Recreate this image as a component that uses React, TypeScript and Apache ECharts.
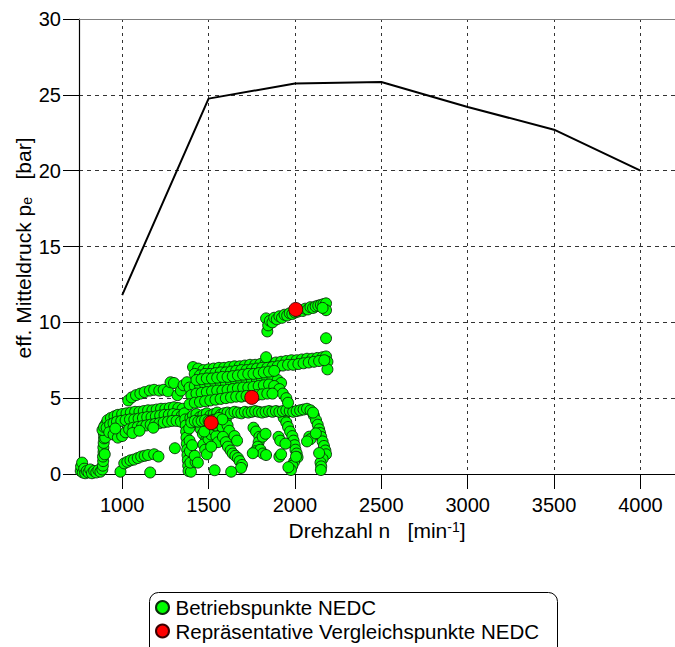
import React, { useEffect, useRef } from "react";
import * as echarts from "echarts";

// Full-load curve
const fullLoadRpm = [1000, 1500, 2000, 2500, 3000, 3500, 4000];
const fullLoadPe = [11.8, 24.75, 25.75, 25.85, 24.2, 22.7, 20.0];

const xTickValues = [1000, 1500, 2000, 2500, 3000, 3500, 4000];

// NEDC operating points (rpm, bar), grouped by visible trajectory
const idlePoints = [
  [760, 0.2], [762, 0.5], [768, 0.75], [772, 0.1], [780, 0.35], [786, 0.05], [795, 0.2], [805, 0.1],
  [815, 0.3], [825, 0.05], [838, 0.2], [850, 0.1], [862, 0.25], [874, 0.15], [885, 0.3],
];
const climb900 = [
  [888, 0.55], [890, 0.85], [889, 1.15], [892, 1.45], [891, 1.75], [893, 2.05], [895, 2.35], [894, 2.65],
  [897, 2.95], [900, 3.2], [904, 2.8], [902, 2.4], [899, 1.3], [908, 3.35], [886, 2.9], [895, 3.1],
];
const lowBandA = [
  [915, 3.55], [935, 3.7], [955, 3.8], [975, 3.9], [1000, 3.95], [1025, 4.0], [1050, 4.05], [1075, 4.1],
  [1100, 4.1], [1125, 4.15], [1150, 4.2], [1175, 4.2], [1200, 4.25], [1225, 4.3], [1250, 4.3], [1275, 4.35],
  [1300, 4.4], [1325, 4.35], [1350, 4.3],
];
const lowBandB = [
  [910, 3.05], [930, 3.25], [950, 3.35], [970, 3.45], [995, 3.5], [1020, 3.55], [1045, 3.6], [1070, 3.6],
  [1095, 3.65], [1120, 3.7], [1145, 3.75], [1170, 3.75], [1195, 3.8], [1220, 3.85], [1245, 3.9], [1270, 3.9],
  [1295, 3.95], [1320, 3.9], [1345, 3.85],
];
const lowBandC = [
  [925, 2.75], [950, 2.6], [975, 2.4], [1000, 2.5], [1020, 2.75], [1040, 2.95], [1065, 3.05], [1090, 3.1],
  [1115, 3.15], [1140, 3.2], [1165, 3.25], [1190, 3.3], [1215, 3.35], [1240, 3.4], [1265, 3.45], [1290, 3.5],
  [1315, 3.5], [1340, 3.45], [1060, 2.7], [1100, 2.85], [960, 3.0], [1180, 3.05],
];
const upperArc = [
  [1035, 4.85], [1055, 5.05], [1080, 5.2], [1105, 5.3], [1130, 5.4], [1160, 5.5], [1185, 5.55], [1215, 5.5],
  [1240, 5.55], [1265, 5.45], [1280, 6.05], [1300, 6.0], [1320, 5.2], [1340, 5.5], [1355, 5.85], [1375, 6.05],
];
const bottomArc = [
  [990, 0.15], [1012, 0.7], [1030, 0.8], [1048, 0.9], [1068, 0.95], [1090, 1.05], [1110, 1.15], [1130, 1.2],
  [1150, 1.25], [1162, 0.1], [1185, 1.3], [1210, 1.15], [1305, 1.7],
];
const col1380 = [
  [1360, 4.0], [1365, 3.6], [1368, 3.2], [1370, 2.8], [1372, 2.4], [1374, 2.0], [1376, 1.6], [1378, 1.25],
  [1380, 0.9], [1382, 0.55], [1384, 0.2], [1398, 0.15], [1395, 0.75], [1392, 1.5], [1390, 2.2], [1388, 3.0],
  [1425, 0.8], [1420, 1.2], [1405, 1.9],
];
const col1500 = [
  [1430, 3.6], [1445, 3.3], [1455, 2.95], [1467, 2.65], [1486, 2.25], [1470, 1.95], [1480, 1.6], [1490, 1.3],
  [1500, 2.3], [1515, 2.6], [1530, 2.9], [1545, 2.5], [1555, 2.1], [1515, 1.8], [1540, 3.2], [1560, 3.4],
  [1580, 3.1], [1535, 0.25], [1475, 2.8], [1438, 0.75],
];
const col1650 = [
  [1600, 3.6], [1610, 3.2], [1620, 2.85], [1583, 2.45], [1600, 2.1], [1612, 1.8], [1628, 1.55], [1640, 1.35],
  [1655, 1.2], [1670, 1.05], [1680, 0.85], [1694, 0.6], [1688, 0.4], [1631, 0.15], [1650, 2.5], [1665, 2.2],
];
const col1780 = [
  [1760, 3.05], [1775, 2.8], [1794, 2.45], [1790, 2.1], [1785, 1.8], [1770, 1.5], [1800, 1.6], [1815, 1.35],
  [1833, 1.25], [1756, 1.37], [1813, 2.46], [1830, 2.65],
];
const col1970 = [
  [1935, 3.7], [1950, 3.4], [1960, 3.1], [1972, 2.8], [1985, 2.5], [1992, 2.2], [1998, 1.9], [2003, 1.6],
  [2010, 1.35], [2015, 1.1], [1995, 0.8], [1985, 0.55], [1977, 0.26], [1962, 0.45], [1905, 2.45], [1915, 2.2],
  [1910, 1.14], [1920, 1.3], [1945, 2.0], [2006, 1.14],
];
const col2140 = [
  [2110, 3.85], [2122, 3.55], [2132, 3.25], [2140, 2.95], [2146, 2.7], [2152, 2.45], [2160, 2.15], [2168, 1.85],
  [2176, 1.55], [2180, 1.3], [2160, 1.0], [2148, 0.75], [2152, 0.5], [2150, 0.26], [2083, 2.46], [2090, 2.3],
  [2070, 2.15], [2121, 2.68], [2140, 1.38],
];
const band4 = [
  [1395, 3.7], [1410, 3.85], [1430, 3.95], [1450, 3.75], [1470, 3.9], [1490, 4.0], [1510, 3.85], [1530, 3.95],
  [1550, 4.05], [1570, 3.9], [1590, 4.0], [1610, 4.05], [1630, 4.0], [1650, 4.1], [1670, 4.05], [1690, 4.0],
  [1710, 4.1], [1730, 4.05], [1750, 4.1], [1770, 4.15], [1790, 4.1], [1810, 4.05], [1830, 4.1], [1850, 4.15],
  [1870, 4.1], [1890, 4.15], [1910, 4.1], [1930, 4.15], [1950, 4.2], [1970, 4.15], [1990, 4.1], [2010, 4.15],
  [2030, 4.2], [2050, 4.25], [2070, 4.3], [2090, 4.2], [2105, 4.05],
  [1400, 3.4], [1420, 3.5], [1440, 3.45], [1460, 3.5], [1480, 3.55], [1500, 3.5], [1520, 3.55], [1540, 3.6],
  [1560, 3.7], [1580, 3.6],
];
const midBand = [
  [1390, 5.7], [1420, 5.8], [1450, 5.85], [1480, 5.9], [1510, 5.9], [1540, 5.95], [1570, 6.0], [1600, 6.0],
  [1630, 6.05], [1660, 6.1], [1690, 6.1], [1720, 6.15], [1750, 6.2], [1780, 6.2], [1810, 6.25], [1840, 6.3],
  [1870, 6.3], [1900, 6.2], [1920, 6.0],
  [1400, 5.2], [1430, 5.3], [1460, 5.35], [1490, 5.4], [1520, 5.45], [1550, 5.5], [1580, 5.5], [1610, 5.55],
  [1640, 5.6], [1670, 5.65], [1700, 5.7], [1730, 5.7], [1760, 5.75], [1790, 5.8], [1820, 5.85], [1850, 5.9],
  [1880, 5.8], [1910, 5.6], [1930, 5.3], [1950, 5.0], [1960, 4.7],
  [1390, 4.6], [1420, 4.7], [1450, 4.75], [1480, 4.8], [1510, 4.85], [1540, 4.9], [1570, 4.95], [1600, 5.0],
  [1630, 5.05], [1660, 5.1], [1690, 5.1], [1720, 5.15], [1780, 5.2], [1810, 5.25], [1840, 5.3], [1870, 5.3],
];
const upperRibbon = [
  [1410, 7.05], [1440, 6.95], [1470, 6.85], [1500, 6.9], [1530, 6.95], [1560, 7.0], [1590, 7.0], [1620, 7.05],
  [1650, 7.1], [1680, 7.1], [1710, 7.15], [1740, 7.2], [1770, 7.2], [1800, 7.25], [1830, 7.3], [1860, 7.3],
  [1890, 7.35], [1920, 7.4], [1950, 7.45], [1980, 7.5], [2010, 7.5], [2040, 7.55], [2070, 7.6], [2100, 7.6],
  [2130, 7.65], [2160, 7.7], [2180, 7.75], [2188, 7.4], [2188, 6.9], [1833, 7.7],
  [1420, 6.6], [1450, 6.5], [1480, 6.6], [1510, 6.6], [1540, 6.65], [1570, 6.7], [1600, 6.7], [1630, 6.75],
  [1660, 6.8], [1690, 6.85], [1720, 6.85], [1750, 6.9], [1780, 6.95], [1810, 7.0], [1840, 7.0], [1870, 7.05],
  [1900, 7.1], [1930, 7.15], [1960, 7.2], [1990, 7.2], [2020, 7.25], [2050, 7.3], [2080, 7.35], [2110, 7.4],
  [2140, 7.45], [2170, 7.5],
  [1430, 6.2], [1460, 6.25], [1490, 6.3], [1520, 6.3], [1550, 6.35], [1580, 6.4], [1610, 6.4], [1640, 6.45],
  [1670, 6.5], [1700, 6.55], [1730, 6.6], [1760, 6.6], [1790, 6.65], [1820, 6.7], [1850, 6.75], [1880, 6.8],
];
const topBand = [
  [1833, 10.26], [1840, 9.4], [1845, 9.8], [1855, 10.1], [1870, 10.0], [1880, 10.3], [1895, 10.2], [1910, 10.4],
  [1925, 10.3], [1940, 10.5], [1955, 10.45], [1970, 10.6], [1985, 10.55], [2000, 10.65], [2015, 10.7],
  [2030, 10.8], [2045, 10.75], [2060, 10.9], [2075, 10.85], [2090, 11.0], [2105, 10.95], [2120, 11.05],
  [2135, 11.1], [2150, 11.15], [2165, 11.2], [2180, 11.25], [2180, 10.8], [2160, 10.95], [2180, 8.95],
];
const representativePoints = [[1515, 3.38], [1750, 5.05], [2005, 10.85]];

const nameGreen = "Betriebspunkte NEDC";
const nameRed = "Repräsentative Vergleichspunkte NEDC";

const operatingPoints = [
  ...idlePoints, ...climb900, ...lowBandA, ...lowBandB, ...lowBandC, ...upperArc, ...bottomArc,
  ...col1380, ...col1500, ...col1650, ...col1780, ...col1970, ...col2140, ...band4, ...midBand,
  ...upperRibbon, ...topBand,
];

const FONT = "'Liberation Sans', Arial, sans-serif";
const NB = "\u00a0";

export default function App() {
  const ref = useRef<HTMLDivElement>(null);
  useEffect(() => {
    const chart = echarts.init(ref.current!, null, { renderer: "svg" });
    const grid = "#333";
    chart.setOption({
      animation: false,
      backgroundColor: "#fff",
      textStyle: { fontFamily: FONT, color: "#000" },
      grid: { left: 79, top: 19, right: -2, bottom: 173, containLabel: false },
      graphic: [
        {
          type: "rect",
          left: 147,
          top: 590,
          shape: { width: 408, height: 80, r: 9 },
          style: { fill: "none", stroke: "#000", lineWidth: 1 },
          silent: true,
        },
        {
          type: "text",
          x: 23,
          y: 248,
          rotation: Math.PI / 2,
          style: {
            text: `{n|eff. Mitteldruck p}{sub|e}{n|${NB}${NB}${NB}[bar]}`,
            align: "center",
            verticalAlign: "middle",
            rich: {
              n: { fontSize: 21, fontFamily: FONT, fill: "#000" },
              sub: { fontSize: 14, fontFamily: FONT, fill: "#000", verticalAlign: "bottom" },
            },
          },
          silent: true,
        },
      ],
      legend: {
        data: [nameGreen, nameRed],
        orient: "vertical",
        left: 155,
        top: 597,
        itemWidth: 16,
        itemHeight: 13,
        itemGap: 2.5,
        padding: 0,
        textStyle: { fontSize: 20.5, color: "#000", fontFamily: FONT },
      },
      xAxis: [
        {
          type: "value",
          min: 750,
          max: 4200,
          name: `{n|Drehzahl n${NB}${NB}${NB}[min}{sup|-1}{n|]}`,
          nameLocation: "middle",
          nameGap: 43,
          nameTextStyle: {
            rich: {
              n: { fontSize: 21, fontFamily: FONT, color: "#000" },
              sup: { fontSize: 14, fontFamily: FONT, color: "#000", verticalAlign: "top" },
            },
          },
          axisLine: { onZero: false, lineStyle: { color: "#000", width: 1.2 } },
          axisTick: { show: true, length: 15, customValues: xTickValues, lineStyle: { color: "#000" } },
          axisLabel: {
            customValues: xTickValues,
            margin: 21,
            fontSize: 20,
            color: "#000",
            fontFamily: FONT,
            formatter: (v: number) => String(v),
          },
          splitLine: { show: true, lineStyle: { color: grid, type: [3, 4], width: 1 } },
        },
        {
          type: "value",
          position: "top",
          min: 750,
          max: 4200,
          axisLine: { show: true, onZero: false, lineStyle: { color: "#808080", width: 1.2 } },
          axisTick: { show: false },
          axisLabel: { show: false },
          splitLine: { show: false },
        },
      ],
      yAxis: {
        type: "value",
        min: 0,
        max: 30,
        interval: 5,
        axisLine: { show: true, onZero: false, lineStyle: { color: "#000", width: 1.2 } },
        axisTick: { show: true, length: 16, lineStyle: { color: "#000" } },
        axisLabel: { margin: 18, fontSize: 20, color: "#000", fontFamily: FONT },
        splitLine: { show: true, lineStyle: { color: grid, type: [4, 4], width: 1 } },
      },
      series: [
        {
          name: "Volllast",
          type: "line",
          data: fullLoadRpm.map((r, i) => [r, fullLoadPe[i]]),
          symbol: "none",
          lineStyle: { color: "#000", width: 2 },
          z: 3,
        },
        {
          name: nameGreen,
          type: "scatter",
          data: operatingPoints,
          symbol: "circle",
          symbolSize: 11,
          itemStyle: { color: "#00ff00", borderColor: "#0a2a0a", borderWidth: 0.9, opacity: 1 },
          z: 4,
        },
        {
          name: nameRed,
          type: "scatter",
          data: representativePoints,
          symbol: "circle",
          symbolSize: 14,
          itemStyle: { color: "#ff0000", borderColor: "#3a0000", borderWidth: 0.9, opacity: 1 },
          z: 5,
        },
      ],
    });
    return () => chart.dispose();
  }, []);
  return (
    <div
      ref={ref}
      style={{ position: "absolute", left: 0, top: 0, width: 675, height: 647 }}
    />
  );
}
